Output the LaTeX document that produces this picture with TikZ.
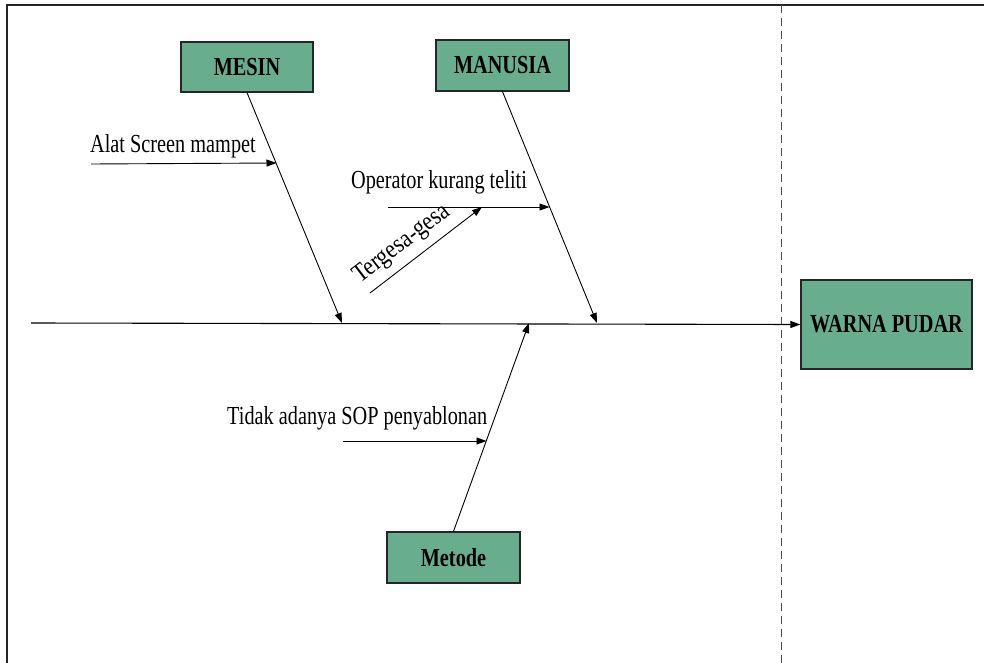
\documentclass[tikz,border=0pt]{standalone}
\usepackage{fontspec}
\usepackage{graphicx}
\setmainfont{Liberation Serif}
\usetikzlibrary{arrows.meta}
\definecolor{boxfill}{RGB}{105,173,143}
\newcommand{\cnd}[1]{\scalebox{0.78}[1]{#1}}
\newcommand{\cndr}[1]{\scalebox{0.85}[1]{#1}}
\tikzset{
  catbox/.style={draw=black!85, line width=1.3pt, fill=boxfill, inner sep=0pt,
    font=\fontsize{26}{30}\selectfont\bfseries},
  bone/.style={line width=0.9pt, -{Triangle[length=10pt,width=7pt]}},
  lbl/.style={inner sep=0pt, font=\fontsize{26}{30}\selectfont},
}
\begin{document}
\begin{tikzpicture}[x=1pt,y=-1pt]
\useasboundingbox (0,0) rectangle (984,663);
% frame
\draw[line width=1.8pt, black!85] (7,663) -- (7,5) -- (984,5);
\draw[line width=1pt, black!70, dash pattern=on 8pt off 5pt] (781,5) -- (781,663);
% boxes
\node[catbox, minimum width=132pt, minimum height=50pt] (mesin) at (247,67) {\cnd{MESIN}};
\node[catbox, minimum width=133pt, minimum height=51pt] (manusia) at (502.5,65.5) {\cnd{MANUSIA}};
\node[catbox, minimum width=171pt, minimum height=89pt] (warna) at (886.5,324.5) {\cnd{WARNA PUDAR}};
\node[catbox, minimum width=133pt, minimum height=51pt] (metode) at (453.5,557.5) {\cnd{Metode}};
% spine
\coordinate (s0) at (31,323);
\draw[bone, line width=1.1pt] (s0) -- (warna.west);
% main bones
\coordinate (m1) at (342,323);
\coordinate (m2) at (597,323);
\coordinate (m3) at (529,323);
\draw[bone] (mesin.south) -- (m1);
\draw[bone] (manusia.south) -- (m2);
\draw[bone] (metode.north) -- (m3);
% sub causes
\coordinate (a0) at (91,164);
\coordinate (a1) at (276.5,163);
\draw[bone] (a0) -- (a1);
\node[lbl, anchor=base west] (alat) at (90,153) {\cnd{Alat Screen mampet}};
\coordinate (o0) at (388,207);
\coordinate (o1) at (549.5,207);
\draw[bone] (o0) -- (o1);
\node[lbl, anchor=base west] (oper) at (351,188) {\cnd{Operator kurang teliti}};
\coordinate (t0) at (370,293);
\coordinate (t1) at (482,207);
\draw[bone] (t0) -- (t1);
\node[lbl, anchor=base west, rotate=37.5] (terg) at (360,284) {\cndr{Tergesa-gesa}};
\coordinate (p0) at (343,441);
\coordinate (p1) at (486.5,441);
\draw[bone] (p0) -- (p1);
\node[lbl, anchor=base west] (tidak) at (227,424) {\cnd{Tidak adanya SOP penyablonan}};
\end{tikzpicture}
\end{document}
